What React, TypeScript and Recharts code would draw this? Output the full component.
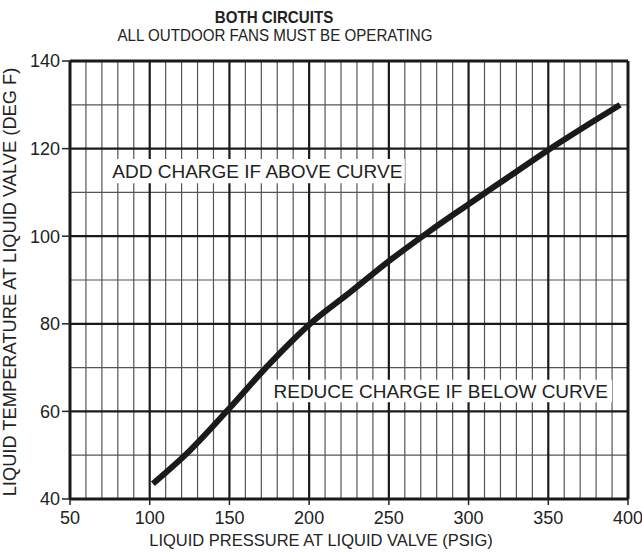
import {
  LineChart,
  Line,
  XAxis,
  YAxis,
  CartesianGrid,
  ReferenceLine,
  ReferenceArea,
} from "recharts";

const PRESSURE = [102, 125, 150, 175, 200, 225, 250, 275, 300, 325, 350, 375, 395];
const LIQUID_TEMP = [43.5, 51, 60.7, 70.8, 79.8, 87, 94.3, 101, 107.3, 113.5, 119.7, 125.5, 130];

const X_TICKS = [50, 100, 150, 200, 250, 300, 350, 400];
const Y_TICKS = [40, 60, 80, 100, 120, 140];
const X_MINOR = [
  60, 70, 80, 90, 110, 120, 130, 140, 160, 170, 180, 190, 210, 220, 230, 240,
  260, 270, 280, 290, 310, 320, 330, 340, 360, 370, 380, 390,
];
const X_MAJOR = [100, 150, 200, 250, 300, 350];
const Y_MINOR = [50, 70, 90, 110, 130];
const Y_MAJOR = [60, 80, 100, 120];

const FONT = '"Liberation Sans", Arial, Helvetica, sans-serif';

const data = PRESSURE.map((p, i) => ({ pressure: p, temp: LIQUID_TEMP[i] }));

// map values through the axis scale handed to the grid
const xGen = (vals: number[]) => (props: any) => {
  const s = props?.xAxis?.scale;
  if (typeof s === "function") return vals.map((v) => s(v));
  const o = props.offset;
  return vals.map((v) => o.left + ((v - 50) / 350) * o.width);
};
const yGen = (vals: number[]) => (props: any) => {
  const s = props?.yAxis?.scale;
  if (typeof s === "function") return vals.map((v) => s(v));
  const o = props.offset;
  return vals.map((v) => o.top + ((140 - v) / 100) * o.height);
};

export default function App() {
  return (
    <div
      style={{
        position: "absolute",
        left: 0,
        top: 0,
        width: 642,
        height: 552,
        background: "#fff",
        fontFamily: FONT,
      }}
    >
      <div
        style={{
          position: "absolute",
          left: 0,
          width: 548,
          top: 8,
          textAlign: "center",
          fontSize: 17,
          fontWeight: "bold",
          color: "#222",
          transform: "scaleX(0.89)",
        }}
      >
        BOTH CIRCUITS
      </div>
      <div
        style={{
          position: "absolute",
          left: 0,
          width: 550,
          top: 26,
          textAlign: "center",
          fontSize: 17,
          color: "#222",
          transform: "scaleX(0.89)",
        }}
      >
        ALL OUTDOOR FANS MUST BE OPERATING
      </div>
      <LineChart
        width={642}
        height={552}
        data={data}
        margin={{ top: 61, right: 14, bottom: 23, left: 0 }}
        style={{ position: "absolute", left: 0, top: 0, fontFamily: FONT }}
      >
        <CartesianGrid
          stroke="#555"
          strokeWidth={1.2}
          verticalCoordinatesGenerator={xGen(X_MINOR)}
          horizontalCoordinatesGenerator={yGen(Y_MINOR)}
        />
        <CartesianGrid
          stroke="#1a1a1a"
          strokeWidth={2.2}
          verticalCoordinatesGenerator={xGen(X_MAJOR)}
          horizontalCoordinatesGenerator={yGen(Y_MAJOR)}
        />
        <XAxis
          dataKey="pressure"
          type="number"
          domain={[50, 400]}
          ticks={X_TICKS}
          allowDataOverflow
          height={30}
          axisLine={false}
          tickLine={{ stroke: "#222", strokeWidth: 1.5 }}
          tickSize={6}
          tick={{ fill: "#222", fontSize: 18, dy: 4 }}
          label={{
            value: "LIQUID PRESSURE AT LIQUID VALVE (PSIG)",
            position: "insideBottom",
            offset: -17,
            dx: -28,
            fill: "#222",
            fontSize: 16.5,
          }}
        />
        <YAxis
          type="number"
          domain={[40, 140]}
          ticks={Y_TICKS}
          allowDataOverflow
          width={70}
          axisLine={false}
          tickLine={{ stroke: "#222", strokeWidth: 1.5 }}
          tickSize={8}
          tick={{ fill: "#222", fontSize: 18 }}
          label={{
            value: "LIQUID TEMPERATURE AT LIQUID VALVE (DEG F)",
            angle: -90,
            position: "insideLeft",
            offset: 10,
            dy: 2,
            fill: "#222",
            fontSize: 18.3,
            style: { textAnchor: "middle" },
          }}
        />
        <ReferenceArea
          x1={75}
          x2={260}
          y1={112.1}
          y2={117.6}
          fill="#fff"
          fillOpacity={1}
          stroke="none"
          label={{
            value: "ADD CHARGE IF ABOVE CURVE",
            position: "center",
            fill: "#222",
            fontSize: 19,
          }}
        />
        <ReferenceArea
          x1={175}
          x2={390}
          y1={62.1}
          y2={67.2}
          fill="#fff"
          fillOpacity={1}
          stroke="none"
          label={{
            value: "REDUCE CHARGE IF BELOW CURVE",
            position: "center",
            fill: "#222",
            fontSize: 19,
          }}
        />
        <ReferenceLine x={50} stroke="#1a1a1a" strokeWidth={3} />
        <ReferenceLine x={400} stroke="#1a1a1a" strokeWidth={3} />
        <ReferenceLine y={40} stroke="#1a1a1a" strokeWidth={3} />
        <ReferenceLine y={140} stroke="#1a1a1a" strokeWidth={3} />
        <Line
          dataKey="temp"
          type="monotone"
          stroke="#1a1a1a"
          strokeWidth={6}
          dot={false}
          isAnimationActive={false}
        />
      </LineChart>
    </div>
  );
}
